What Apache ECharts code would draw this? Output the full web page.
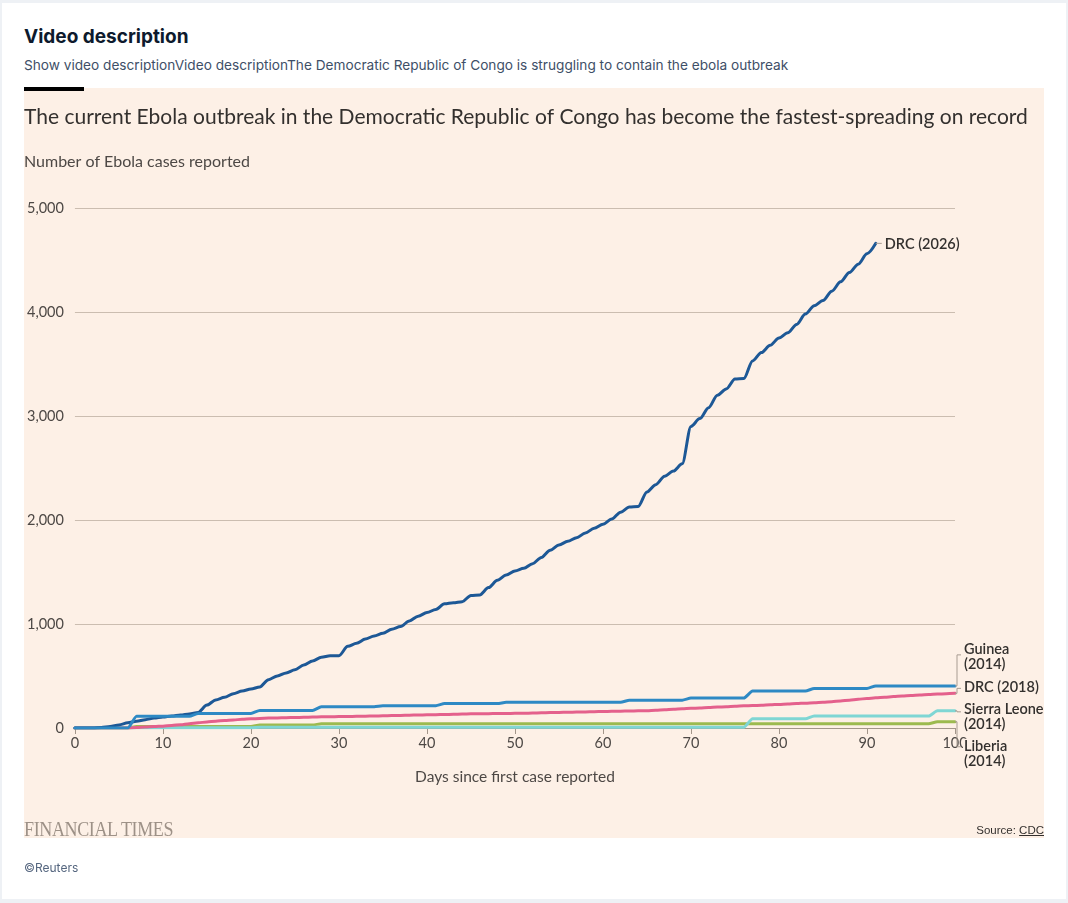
<!DOCTYPE html>
<html>
<head>
<meta charset="utf-8">
<script src="https://cdn.jsdelivr.net/npm/echarts@6/dist/echarts.min.js"></script>
<style>
    body { margin: 0; background: #eef1f5; }
    #card { position: absolute; left: 2px; top: 3px; width: 1064px; height: 896px; background: #fff; }
    #head { position: absolute; left: 24px; top: 25px; font-family: Inter, sans-serif; font-weight: 700; font-size: 19px; color: #0d1a2d; }
    #desc { position: absolute; left: 24px; top: 57px; font-family: Inter, sans-serif; font-size: 13.65px; color: #3e4f67; }
    #bar { position: absolute; left: 24px; top: 87px; width: 60px; height: 4px; background: #000; z-index: 2; }
    #main { position: absolute; left: 24px; top: 88px; width: 1020px; height: 750px; background: #fdf0e6; }
    #ft { position: absolute; left: 24px; top: 818px; font-family: 'Liberation Serif', serif; font-size: 20px; color: #9d9187; transform: scaleX(0.9); transform-origin: left; letter-spacing: -0.4px; }
    #src { position: absolute; right: 24px; top: 824px; font-family: 'Liberation Sans Narrow', 'Liberation Sans', sans-serif; font-size: 11.5px; color: #33302e; }
    #src u { text-decoration: underline; }
    #credit { position: absolute; left: 24px; top: 860px; font-family: Inter, sans-serif; font-size: 12px; color: #55667f; }
</style>
</head>
<body>
<div id="card"></div>
<div id="head">Video description</div>
<div id="desc">Show video descriptionVideo descriptionThe Democratic Republic of Congo is struggling to contain the ebola outbreak</div>
<div id="main"></div>
<div id="bar"></div>
<div id="ft">FINANCIAL TIMES</div>
<div id="src">Source: <u>CDC</u></div>
<div id="credit">©Reuters</div>
<script>
// cases by day since first case (index = day)
var drc2026 = [0, 0, 0, 5, 15, 30, 50, 65, 80, 95,
    105, 115, 125, 135, 150, 220, 270, 295, 330, 355,
    375, 395, 465, 500, 530, 560, 605, 645, 680, 695,
    695, 785, 815, 855, 885, 910, 950, 975, 1030, 1075,
    1110, 1140, 1195, 1205, 1215, 1275, 1280, 1350, 1420, 1470,
    1510, 1535, 1580, 1640, 1710, 1760, 1795, 1830, 1875, 1920,
    1960, 2010, 2075, 2125, 2130, 2270, 2340, 2420, 2470, 2540,
    2900, 2975, 3080, 3200, 3260, 3355, 3360, 3530, 3610, 3680,
    3750, 3800, 3880, 3980, 4060, 4110, 4200, 4290, 4380, 4460,
    4560, 4660];

var guinea2014 = [0, 0, 0, 0, 0, 0, 0, 112, 112, 112,
    112, 112, 112, 112, 140, 140, 140, 140, 140, 140,
    140, 168, 168, 168, 168, 168, 168, 168, 205, 205,
    205, 205, 205, 205, 205, 214, 214, 214, 214, 214,
    214, 214, 235, 235, 235, 235, 235, 235, 235, 247,
    247, 247, 247, 247, 247, 247, 247, 247, 247, 247,
    247, 247, 247, 268, 268, 268, 268, 268, 268, 268,
    288, 288, 288, 288, 288, 288, 288, 355, 355, 355,
    355, 355, 355, 355, 380, 380, 380, 380, 380, 380,
    380, 405, 405, 405, 405, 405, 405, 405, 405, 405,
    405];

var drc2018 = [0, 0, 0, 0, 0, 0, 0, 5, 10, 14,
    18, 24, 32, 42, 50, 58, 66, 72, 78, 83,
    88, 92, 95, 97, 99, 101, 103, 105, 107, 108,
    110, 111, 112, 114, 115, 117, 119, 121, 123, 125,
    127, 128, 130, 132, 134, 136, 137, 138, 139, 140,
    141, 142, 144, 146, 148, 150, 151, 153, 155, 157,
    158, 160, 162, 163, 165, 167, 171, 176, 181, 185,
    189, 193, 197, 201, 205, 209, 213, 216, 219, 223,
    227, 231, 235, 239, 243, 247, 253, 260, 268, 276,
    284, 290, 296, 302, 307, 313, 318, 322, 326, 330,
    333];

var sierraLeone2014 = [0, 0, 0, 0, 0, 0, 0, 2, 2, 2,
    2, 2, 2, 2, 2, 2, 2, 2, 2, 2,
    2, 8, 8, 8, 8, 8, 8, 8, 8, 8,
    8, 8, 8, 8, 8, 8, 8, 8, 8, 8,
    8, 8, 8, 8, 8, 8, 8, 8, 8, 8,
    8, 8, 8, 8, 8, 8, 8, 8, 8, 8,
    8, 8, 8, 8, 8, 8, 8, 8, 8, 8,
    8, 8, 8, 8, 8, 8, 8, 88, 88, 88,
    88, 88, 88, 88, 115, 115, 115, 115, 115, 115,
    115, 115, 115, 115, 115, 115, 115, 115, 165, 165,
    165];

var liberia2014 = [0, 0, 0, 0, 0, 0, 0, 15, 15, 15,
    15, 15, 15, 15, 15, 15, 15, 15, 15, 15,
    15, 30, 30, 30, 30, 30, 30, 30, 40, 40,
    40, 40, 40, 40, 40, 42, 42, 42, 42, 42,
    42, 42, 42, 42, 42, 42, 42, 42, 42, 42,
    42, 42, 42, 42, 42, 42, 42, 42, 42, 42,
    42, 42, 42, 42, 42, 42, 42, 42, 42, 42,
    42, 42, 42, 42, 42, 42, 42, 42, 42, 42,
    42, 42, 42, 42, 42, 42, 42, 42, 42, 42,
    42, 42, 42, 42, 42, 42, 42, 42, 60, 60,
    60];

var xTicks = [0, 10, 20, 30, 40, 50, 60, 70, 80, 90, 100];
var yTicks = [0, 1000, 2000, 3000, 4000, 5000];

var bg = '#fdf0e6';
var textCol = '#33302e';
var labelFont = 'Lato, "Noto Sans", sans-serif';

function pairs(vals) {
    return vals.map(function (v, i) { return [i, v]; });
}

function lineSeries(name, vals, color, smooth, label, dy, z) {
    return {
        name: name,
        type: 'line',
        data: pairs(vals),
        showSymbol: false,
        smooth: smooth,
        smoothMonotone: 'x',
        z: z,
        lineStyle: { color: color, width: 3, cap: 'round', join: 'round' },
        emphasis: { disabled: true },
        endLabel: {
            show: true,
            formatter: label,
            distance: 0,
            offset: [8, dy],
            color: textCol,
            fontFamily: labelFont,
            fontSize: 14.5,
            fontWeight: 600,
            lineHeight: 15,
            backgroundColor: bg,
            padding: [0, 0, 0, 1]
        }
    };
}

var chart = echarts.init(document.getElementById('main'));

var option = {
    animation: false,
    backgroundColor: bg,
    textStyle: { fontFamily: labelFont },
    title: [
        {
            text: 'The current Ebola outbreak in the Democratic Republic of Congo has become the fastest-spreading on record',
            left: 0, top: 19, padding: 0,
            textStyle: { fontSize: 21, fontWeight: 'normal', color: textCol, fontFamily: labelFont }
        },
        {
            text: 'Number of Ebola cases reported',
            left: 0, top: 66, padding: 0,
            textStyle: { fontSize: 16, fontWeight: 'normal', color: '#4d4845', fontFamily: labelFont }
        }
    ],
    grid: { left: 49, right: 89, top: 120, bottom: 110 },
    xAxis: {
        type: 'value',
        min: xTicks[0],
        max: xTicks[xTicks.length - 1],
        interval: 10,
        name: 'Days since first case reported',
        nameLocation: 'middle',
        nameGap: 41,
        nameTextStyle: { fontSize: 15.5, color: '#4d4845', fontFamily: labelFont },
        axisLine: { show: true, lineStyle: { color: '#a3968a', width: 1 } },
        axisTick: { show: true, length: 6, lineStyle: { color: '#a3968a' } },
        axisLabel: { fontSize: 14.5, color: '#4d4845', margin: 8, fontFamily: labelFont },
        splitLine: { show: false }
    },
    yAxis: {
        type: 'value',
        min: yTicks[0],
        max: yTicks[yTicks.length - 1],
        interval: 1000,
        axisLine: { show: false },
        axisTick: { show: false },
        axisLabel: {
            fontSize: 14.5, color: '#4d4845', margin: 11, fontFamily: labelFont,
            formatter: function (v) { return v.toLocaleString('en-US'); }
        },
        splitLine: { lineStyle: { color: '#cbbdb0', width: 1 } }
    },
    series: [
        lineSeries('Liberia (2014)', liberia2014, '#9cba4f', 0.2, 'Liberia\n(2014)', 32, 2),
        lineSeries('Sierra Leone (2014)', sierraLeone2014, '#7fd6d4', 0.2, 'Sierra Leone\n(2014)', 6, 3),
        lineSeries('DRC (2018)', drc2018, '#e4608c', 0.3, 'DRC (2018)', -6, 4),
        lineSeries('DRC (2026)', drc2026, '#1d5896', 0.3, 'DRC (2026)', 1, 5),
        lineSeries('Guinea (2014)', guinea2014, '#2e89c4', 0.2, 'Guinea\n(2014)', -29, 6)
    ]
};

chart.setOption(option);

// leader lines from each line end to its label
function leader(vals, dy) {
    var last = vals.length - 1;
    var p = chart.convertToPixel({ gridIndex: 0 }, [last, vals[last]]);
    var x = p[0] + 2;
    return [
        { type: 'line', z: 10, shape: { x1: p[0], y1: p[1], x2: x, y2: p[1] }, style: { stroke: '#a89c92', lineWidth: 1 } },
        { type: 'line', z: 10, shape: { x1: x, y1: p[1], x2: x, y2: p[1] + dy }, style: { stroke: '#a89c92', lineWidth: 1 } },
        { type: 'line', z: 10, shape: { x1: x, y1: p[1] + dy, x2: x + 4, y2: p[1] + dy }, style: { stroke: '#a89c92', lineWidth: 1 } }
    ];
}

var leaders = []
    .concat(leader(guinea2014, -31))
    .concat(leader(drc2018, -5))
    .concat(leader(sierraLeone2014, 1))
    .concat(leader(liberia2014, 25))
    .concat(leader(drc2026, 0));

chart.setOption({ graphic: leaders });
</script>
</body>
</html>
